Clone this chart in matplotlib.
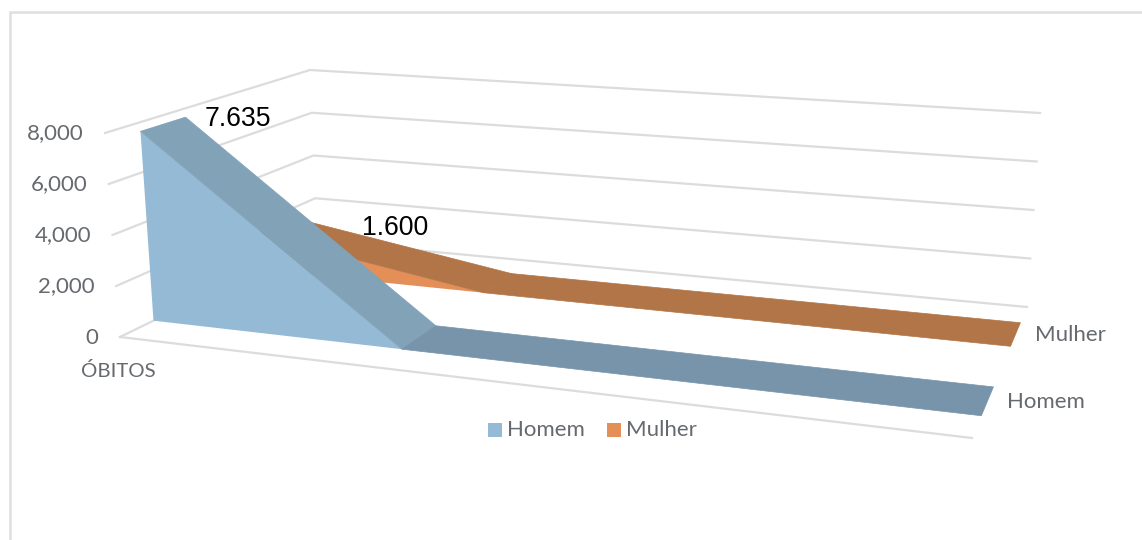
import matplotlib
matplotlib.use("Agg")
import matplotlib.pyplot as plt
from matplotlib.patches import Polygon, Rectangle

# Chart data
categories = ["ÓBITOS", "", ""]
homem = [7635, 0, 0]
mulher = [1600, 0, 0]
value_ticks = [0, 2000, 4000, 6000, 8000]
tick_labels = ["0", "2,000", "4,000", "6,000", "8,000"]
series_names = ["Homem", "Mulher"]
data_labels = ["7.635", "1.600"]

# Scene layout: where categories and series bands sit inside the box
CAT_POS = [0.0, 0.30, 1.0]
HOMEM_BAND = (0.17, 0.39)
MULHER_BAND = (0.70, 0.88)
VMAX = 8000

# Pixel positions of the box corners: (along, depth, height)
FLB, FRB, BLB, BRB = (120, 337), (972, 438), (317, 241), (1027, 307)
FLT, FRT, BLT, BRT = (105, 133), (985, 207), (310, 70), (1040, 113)

C_GRID = "#DCDCDC"
C_TEXT = "#666a6e"
C_HOMEM_FACE = "#94BAD5"
C_HOMEM_SLOPE = "#82A2B7"
C_HOMEM_FLAT = "#7894AA"
C_MULHER_FACE = "#E48F57"
C_MULHER_TOP = "#B27547"


def lerp(a, b, t):
    return (a[0] + (b[0] - a[0]) * t, a[1] + (b[1] - a[1]) * t)


def project(u, v, value):
    """Trilinear map from (along, depth, value) to canvas pixels."""
    bottom = lerp(lerp(FLB, FRB, u), lerp(BLB, BRB, u), v)
    top = lerp(lerp(FLT, FRT, u), lerp(BLT, BRT, u), v)
    return lerp(bottom, top, value / VMAX)


fig = plt.figure(figsize=(11.42, 5.4), dpi=100, facecolor="white")
ax = fig.add_axes([0, 0, 1, 1])
ax.set_xlim(0, 1142)
ax.set_ylim(540, 0)
ax.axis("off")

# Outer chart frame: left and top edges run off the canvas
ax.plot([9.5, 9.5, 1142], [540, 12, 12], color="#DFDFDF", lw=1.8, zorder=1,
        solid_joinstyle="miter")

# Gridlines on side and back walls
for val in value_ticks:
    pts = [project(0, 0, val), project(0, 1, val), project(1, 1, val)]
    ax.plot(*zip(*pts), color=C_GRID, lw=1.6, zorder=2, solid_joinstyle="miter")
ax.plot(*zip(project(0, 0, 0), project(1, 0, 0)), color=C_GRID, lw=1.6, zorder=2)


def draw_area(values, band, face, slope, flat, z):
    front, back = band
    # Front face of the area
    face_pts = [project(CAT_POS[0], front, 0)]
    face_pts += [project(u, front, val) for u, val in zip(CAT_POS[:2], values[:2])]
    ax.add_patch(Polygon(face_pts, closed=True, fc=face, ec="none", zorder=z))
    # Upper surface, one strip per category interval
    for i, col in enumerate((slope, flat)):
        strip = [project(CAT_POS[i], front, values[i]),
                 project(CAT_POS[i], back, values[i]),
                 project(CAT_POS[i + 1], back, values[i + 1]),
                 project(CAT_POS[i + 1], front, values[i + 1])]
        ax.add_patch(Polygon(strip, closed=True, fc=col, ec=col, lw=0.5, zorder=z + 1 + i))


draw_area(mulher, MULHER_BAND, C_MULHER_FACE, C_MULHER_TOP, C_MULHER_TOP, 3)
draw_area(homem, HOMEM_BAND, C_HOMEM_FACE, C_HOMEM_SLOPE, C_HOMEM_FLAT, 7)

LATO = "Lato"
FS = 16

# Value axis labels
for val, lab in zip(value_ticks, tick_labels):
    x, y = project(0, 0, val)
    ax.text(x - 21.5, y + 0.5, lab, ha="right", va="center", family=LATO, fontsize=FS,
            color=C_TEXT, zorder=20)

# Category label
ax.text(81, 371, categories[0], ha="left", va="center", family=LATO, fontsize=14.7,
        color=C_TEXT, zorder=20)

# Series labels at the far end of each band
for name, band in zip(series_names, (HOMEM_BAND, MULHER_BAND)):
    x, y = project(1, sum(band) / 2, 0)
    ax.text(x + 20, y + 0.5, name, ha="left", va="center", family=LATO, fontsize=FS,
            color=C_TEXT, zorder=20)

# Data labels
x, y = project(CAT_POS[0], HOMEM_BAND[1], homem[0])
ax.text(x + 19, y + 2, data_labels[0], ha="left", va="center", family="Liberation Sans",
        fontsize=19.2, color="black", zorder=20)
x, y = project(CAT_POS[0], MULHER_BAND[1], mulher[0])
ax.text(x + 70, y + 10, data_labels[1], ha="left", va="center", family="Liberation Sans",
        fontsize=19.2, color="black", zorder=20)

# Legend
for left, txt_x, name, col in ((488, 507, series_names[0], C_HOMEM_FACE),
                               (607, 626, series_names[1], C_MULHER_FACE)):
    ax.add_patch(Rectangle((left, 423), 13.5, 13.5, fc=col, ec="none", zorder=20))
    ax.text(txt_x, 429.5, name, ha="left", va="center", family=LATO, fontsize=FS,
            color=C_TEXT, zorder=20)

fig.savefig("out.png", dpi=100, facecolor="white")
